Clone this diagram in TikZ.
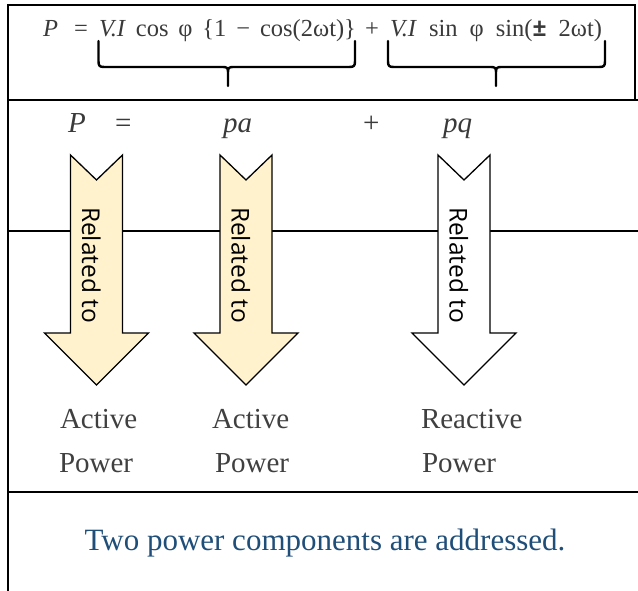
\documentclass[tikz,border=0pt]{standalone}
\usepackage{fontspec}
\setmainfont{Liberation Serif}
\newfontfamily\osans{Open Sans}
\definecolor{txtgrey}{HTML}{404040}
\definecolor{eqgrey}{HTML}{3A3A3A}
\definecolor{noteblue}{HTML}{1F4E79}
\definecolor{arrowfill}{HTML}{FFF2CC}
\tikzset{
  frameline/.style={line width=2pt, draw=black},
  bracepath/.style={line width=2.4pt, draw=black, line cap=round, line join=round},
  eqtext/.style={anchor=base west, text=eqgrey, font=\fontsize{24.5}{24.5}\selectfont},
  rowtext/.style={anchor=base west, text=eqgrey, font=\fontsize{29}{29}\selectfont},
  labeltext/.style={anchor=base west, text=txtgrey, font=\fontsize{29}{29}\selectfont},
  reltext/.style={anchor=base, rotate=-90, text=black, font=\osans\fontsize{24.5}{24.5}\selectfont},
  bigarrow/.pic={
    \path[pic actions] (-26,155) -- (0,180) -- (26,155) -- (26,333) -- (52,333)
      -- (0,385) -- (-52,333) -- (-26,333) -- cycle;
  }
}
\begin{document}
\begin{tikzpicture}[x=1pt, y=-1pt, every node/.style={inner sep=0pt, outer sep=0pt}]
\useasboundingbox (0,0) rectangle (638,591);
% frame and separators
\draw[frameline] (635,100) -- (635,5) -- (7.5,5) -- (7.5,591);
\draw[frameline] (7.5,100) -- (638,100);
\draw[frameline] (7.5,231) -- (638,231);
\draw[frameline] (7.5,492) -- (638,492);
% equation
\node[eqtext] (eqP) at (43,37) {\textit{P}};
\node[eqtext] (eqEq) at (74,37) {=};
\node[eqtext] (eqA) at (99,37) {\makebox[257pt][s]{\textit{V.I} cos φ \{1 − cos(2ωt)\}}};
\node[eqtext] (eqPlus) at (365,37) {+};
\node[eqtext] (eqB) at (390,37) {\makebox[212pt][s]{\textit{V.I} sin φ sin({\osans\bfseries ±} 2ωt)}};
% braces
\draw[bracepath] (98.5,41) -- (98.5,61) .. controls (98.5,66) and (99.5,67) .. (104.5,67)
  -- (223,67) .. controls (227,67) and (228,68) .. (228,72) -- (228,86)
  (228,72) .. controls (228,68) and (229,67) .. (233,67) -- (349,67)
  .. controls (354,67) and (355,66) .. (355,61) -- (355,41);
\draw[bracepath] (388,41) -- (388,61) .. controls (388,66) and (389,67) .. (394,67)
  -- (491,67) .. controls (495,67) and (496,68) .. (496,72) -- (496,86)
  (496,72) .. controls (496,68) and (497,67) .. (501,67) -- (599,67)
  .. controls (604,67) and (605,66) .. (605,61) -- (605,41);
% second row
\node[rowtext] (rP) at (68,133) {\textit{P}};
\node[rowtext] (rEq) at (115,133) {=};
\node[rowtext] (rpa) at (223,133) {\textit{pa}};
\node[rowtext] (rPlus) at (363,133) {+};
\node[rowtext] (rpq) at (443,133) {\textit{pq}};
% arrows
\pic[fill=arrowfill, draw=black, line width=1.3pt, line join=miter] at (96.5,0) {bigarrow};
\pic[fill=arrowfill, draw=black, line width=1.3pt, line join=miter] at (246,0) {bigarrow};
\pic[fill=white, draw=black, line width=1.3pt, line join=miter] at (464,0) {bigarrow};
\node[reltext] (rel1) at (82,265) {Related to};
\node[reltext] (rel2) at (231.5,265) {Related to};
\node[reltext] (rel3) at (449.5,265) {Related to};
% labels
\node[labeltext] (act1) at (60,428) {Active};
\node[labeltext] (act2) at (212,428) {Active};
\node[labeltext] (react) at (421,428) {Reactive};
\node[labeltext] (pow1) at (59,472) {Power};
\node[labeltext] (pow2) at (215,472) {Power};
\node[labeltext] (pow3) at (422,472) {Power};
% note
\node[anchor=base, text=noteblue, font=\fontsize{31}{31}\selectfont] (note) at (325,550) {Two power components are addressed.};
\end{tikzpicture}
\end{document}
